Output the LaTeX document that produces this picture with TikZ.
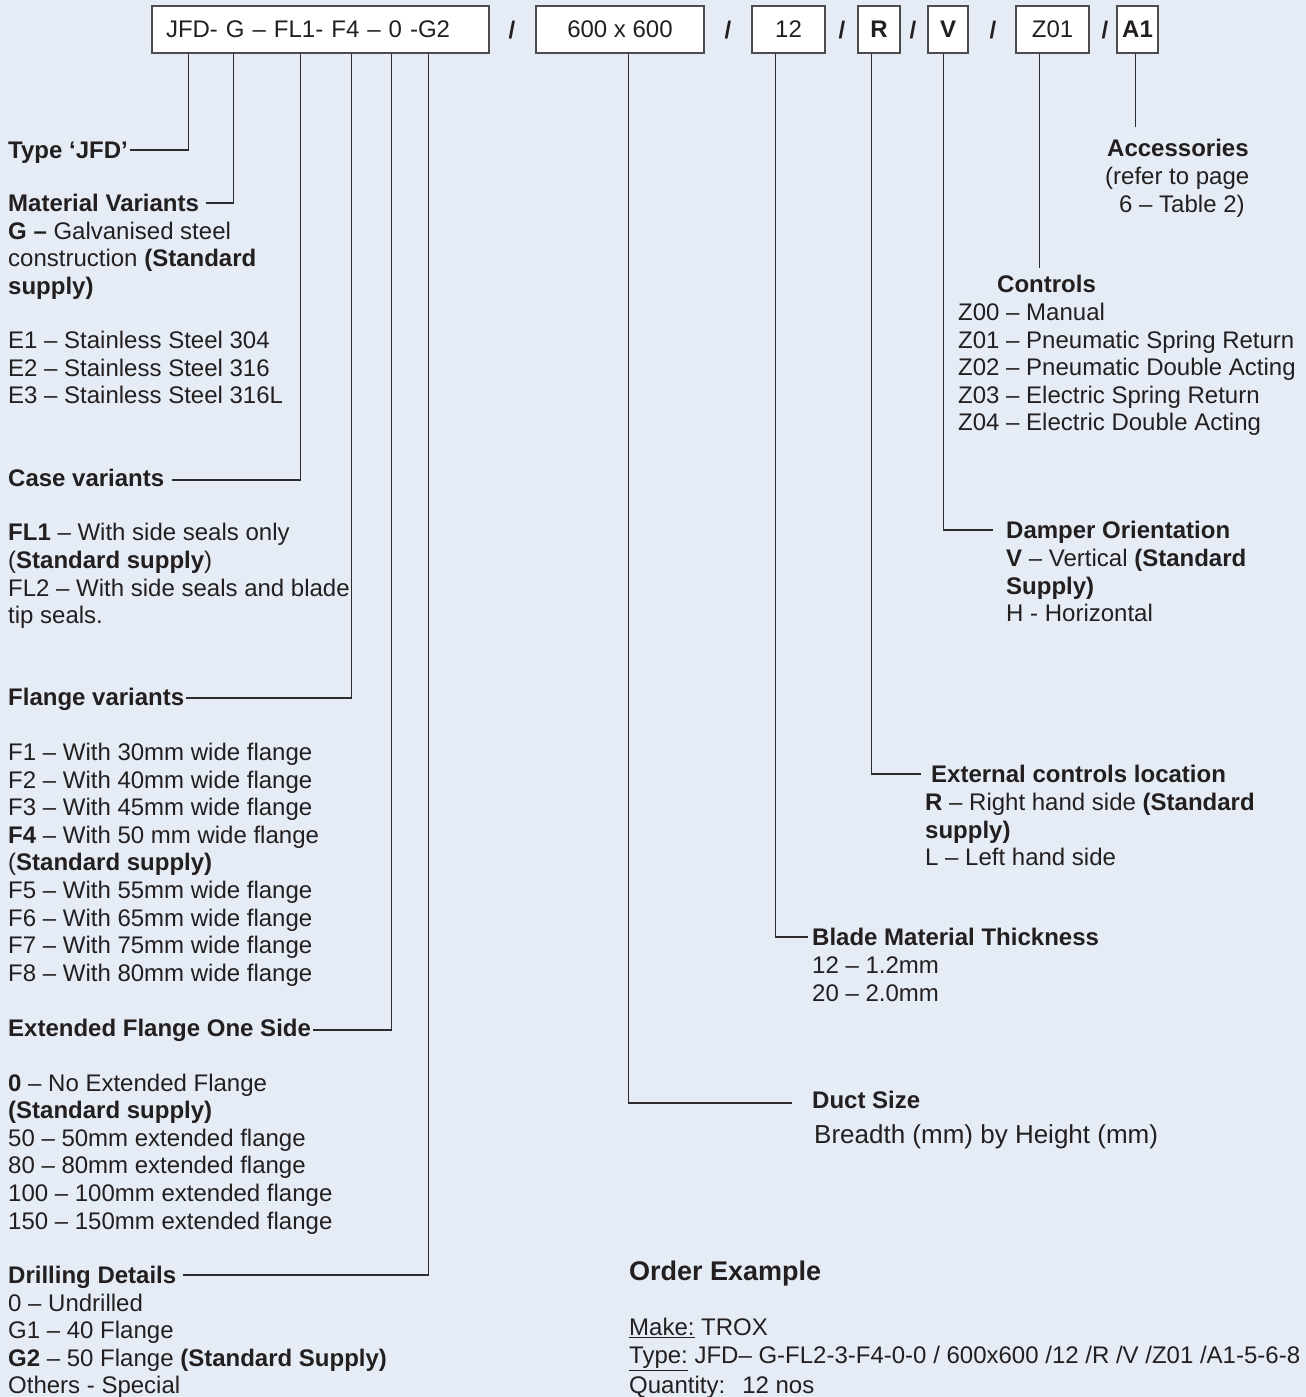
\documentclass[tikz,border=0pt]{standalone}
\usepackage{fontspec}
\setmainfont{Liberation Sans}
\definecolor{bg}{RGB}{229,236,245}
\definecolor{tc}{RGB}{35,31,32}
\definecolor{ln}{RGB}{45,45,45}
\newcounter{tlc}
\newcommand\TL[4][]{\stepcounter{tlc}\node[txt,#1] (tl\arabic{tlc}) at (#2,#3) {#4};}
\tikzset{
 txt/.style={font=\fontsize{24}{28}\selectfont, text=tc, inner xsep=2pt, inner ysep=0pt, text height=17pt, text depth=0pt, anchor=west},
 hd/.style={txt, font=\fontsize{24}{28}\selectfont\bfseries},
 box/.style={draw=ln!85, fill=white, line width=1.1pt, minimum height=47pt, inner sep=0pt, text height=17pt, text depth=0pt, font=\fontsize{24}{28}\selectfont, text=tc},
 conn/.style={draw=ln, line width=1.3pt},
 sl/.style={font=\fontsize{24}{28}\selectfont\bfseries, text=tc, inner sep=0pt, text height=17pt, text depth=0pt}
}
\begin{document}
\begin{tikzpicture}[x=1pt,y=-1pt]
\useasboundingbox (0,0) rectangle (1306,1397);
\fill[bg] (0,0) rectangle (1306,1397);
% top boxes
\node[box, minimum width=337pt, text width=309pt, align=left] (b1) at (320.5,29.5) {JFD- G – FL1- F4 – 0 -G2};
\node[box, minimum width=168pt] (b2) at (620,29.5) {600 x 600};
\node[box, minimum width=73pt] (b3) at (788.5,29.5) {12};
\node[box, minimum width=42pt, font=\fontsize{24}{28}\selectfont\bfseries] (b4) at (879,29.5) {R};
\node[box, minimum width=40pt, font=\fontsize{24}{28}\selectfont\bfseries] (b5) at (948,29.5) {V};
\node[box, minimum width=73pt] (b6) at (1052.5,29.5) {Z01};
\node[box, minimum width=41pt, font=\fontsize{24}{28}\selectfont\bfseries] (b7) at (1137.5,29.5) {A1};
\node[sl] (s1) at (512,30) {/};
\node[sl] (s2) at (728,30) {/};
\node[sl] (s3) at (842,30) {/};
\node[sl] (s4) at (913,30) {/};
\node[sl] (s5) at (993,30) {/};
\node[sl] (s6) at (1105,30) {/};
% left column
\node[hd] (tType) at (6,150) {Type ‘JFD’};
\node[hd] (tMat) at (6,203) {Material Variants};
\TL{6}{231}{\textbf{G –} Galvanised steel}
\TL{6}{258}{construction \textbf{(Standard}}
\TL{6}{286}{\textbf{supply)}}
\TL{6}{340}{E1 – Stainless Steel 304}
\TL{6}{368}{E2 – Stainless Steel 316}
\TL{6}{395}{E3 – Stainless Steel 316L}
\node[hd] (tCase) at (6,478) {Case variants};
\TL{6}{532}{\textbf{FL1} – With side seals only}
\TL{6}{560}{(\textbf{Standard supply})}
\TL{6}{588}{FL2 – With side seals and blade}
\TL{6}{615}{tip seals.}
\node[hd] (tFlange) at (6,697) {Flange variants};
\TL{6}{752}{F1 – With 30mm wide flange}
\TL{6}{780}{F2 – With 40mm wide flange}
\TL{6}{807}{F3 – With 45mm wide flange}
\TL{6}{835}{\textbf{F4} – With 50 mm wide flange}
\TL{6}{862}{(\textbf{Standard supply)}}
\TL{6}{890}{F5 – With 55mm wide flange}
\TL{6}{918}{F6 – With 65mm wide flange}
\TL{6}{945}{F7 – With 75mm wide flange}
\TL{6}{973}{F8 – With 80mm wide flange}
\node[hd] (tExt) at (6,1028) {Extended Flange One Side};
\TL{6}{1083}{\textbf{0} – No Extended Flange}
\TL{6}{1110}{\textbf{(Standard supply)}}
\TL{6}{1138}{50 – 50mm extended flange}
\TL{6}{1165}{80 – 80mm extended flange}
\TL{6}{1193}{100 – 100mm extended flange}
\TL{6}{1221}{150 – 150mm extended flange}
\node[hd] (tDrill) at (6,1275) {Drilling Details};
\TL{6}{1303}{0 – Undrilled}
\TL{6}{1330}{G1 – 40 Flange}
\TL{6}{1358}{\textbf{G2} – 50 Flange \textbf{(Standard Supply)}}
\TL{6}{1385}{Others - Special}
% right column
\node[hd] (tAcc) at (1105,148) {Accessories};
\TL{1103}{176}{(refer to page}
\TL{1117}{204}{6 – Table 2)}
\node[hd] (tCtrl) at (995,284) {Controls};
\TL{956}{312}{Z00 – Manual}
\TL{956}{340}{Z01 – Pneumatic Spring Return}
\TL{956}{367}{Z02 – Pneumatic Double Acting}
\TL{956}{395}{Z03 – Electric Spring Return}
\TL{956}{422}{Z04 – Electric Double Acting}
\node[hd] (tDamp) at (1004,530) {Damper Orientation};
\TL{1004}{558}{\textbf{V} – Vertical \textbf{(Standard}}
\TL{1004}{586}{\textbf{Supply)}}
\TL{1004}{613}{H - Horizontal}
\node[hd] (tExtc) at (929,774) {External controls location};
\TL{923}{802}{\textbf{R} – Right hand side \textbf{(Standard}}
\TL{923}{830}{\textbf{supply)}}
\TL{923}{857}{L – Left hand side}
\node[hd] (tBlade) at (810,937) {Blade Material Thickness};
\TL{810}{965}{12 – 1.2mm}
\TL{810}{993}{20 – 2.0mm}
\node[hd] (tDuct) at (810,1100) {Duct Size};
\TL[font=\fontsize{26}{30}\selectfont, text height=18.5pt]{812}{1134}{Breadth (mm) by Height (mm)}
\node[hd, font=\fontsize{27}{32}\selectfont\bfseries, text height=19pt] (tOrder) at (627,1271) {Order Example};
\TL{627}{1327}{\underline{Make:} TROX}
\TL{627}{1355}{\underline{Type:} JFD– G-FL2-3-F4-0-0 / 600x600 /12 /R /V /Z01 /A1-5-6-8}
\TL{627}{1385}{\underline{Quantity:}\hspace{17pt}12 nos}
% connectors
\draw[conn] ([xshift=37pt]b1.south west) |- (tType.east);
\draw[conn] ([xshift=82pt]b1.south west) |- ([xshift=5pt]tMat.east);
\draw[conn] ([xshift=149pt]b1.south west) |- ([xshift=6pt,yshift=-2pt]tCase.east);
\draw[conn] ([xshift=200pt]b1.south west) |- ([yshift=-1pt]tFlange.east);
\draw[conn] ([xshift=240pt]b1.south west) |- ([yshift=-2pt]tExt.east);
\draw[conn] ([xshift=277pt]b1.south west) |- ([xshift=5pt]tDrill.east);
\draw[conn] ([xshift=93pt]b2.south west) |- ([xshift=-18pt,yshift=-3pt]tDuct.west);
\draw[conn] ([xshift=24pt]b3.south west) |- ([xshift=-2pt]tBlade.west);
\draw[conn] ([xshift=14pt]b4.south west) |- ([xshift=-8pt]tExtc.west);
\draw[conn] ([xshift=16pt]b5.south west) |- ([xshift=-11pt]tDamp.west);
\coordinate (pc) at ([xshift=24pt]b6.south west);
\draw[conn, shorten >=7pt] (pc) -- (pc |- tCtrl.north);
\coordinate (pa) at ([xshift=19pt]b7.south west);
\draw[conn, shorten >=12pt] (pa) -- (pa |- tAcc.north);
\end{tikzpicture}
\end{document}
